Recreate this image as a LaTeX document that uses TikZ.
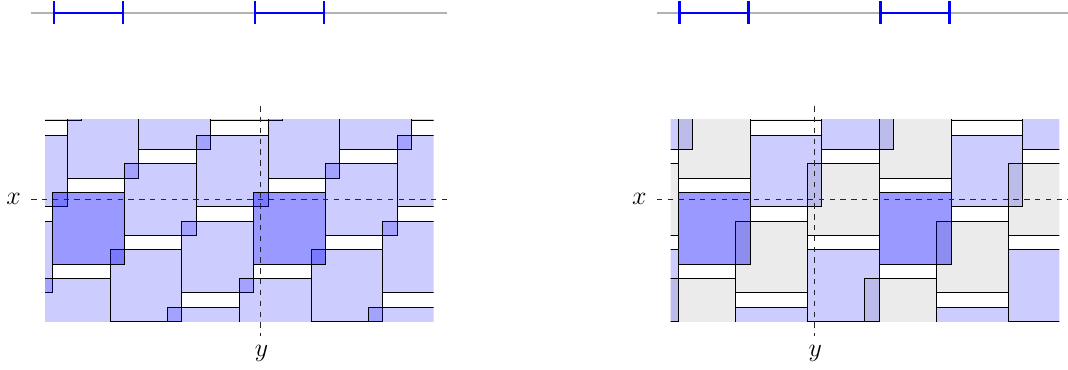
\documentclass[tikz,border=0pt]{standalone}
\usepackage{tikz}
\usepackage{xcolor}
\definecolor{tileBlue}{RGB}{0, 0, 255}
\definecolor{tileInk}{RGB}{0, 0, 0}
\definecolor{axisGray}{RGB}{178, 178, 178}

\begin{document}
\begin{tikzpicture}[x=0.28cm, y=0.28cm,
        tile/.style={draw=tileInk, line width=0.4pt, fill=tileBlue, fill opacity=0.2},
        graytile/.style={draw=tileInk, line width=0.4pt, fill=tileInk, fill opacity=0.08},
        marked/.style={draw=tileInk, line width=0.4pt, fill=tileBlue, fill opacity=0.25},
        guideline/.style={dashed, draw=tileInk!85, line width=0.4pt},
        axisline/.style={draw=axisGray, line width=1.1pt},
        spanmark/.style={draw=tileBlue, line width=1.5pt},
        axislabel/.style={anchor=base, inner sep=0pt, font=\Large}]
            \useasboundingbox (-3.67,-12.32) rectangle (70.76,13.4);

            % Left: lattice of squares
            \begin{scope}
                \clip (-0.53,-9.02) rectangle (26.55,5.04);
                \foreach \i in {-4,...,7}
                    \foreach \j in {-5,...,6}
                        \draw[tile] ({5*\i+4*\j},{2*\i-4*\j-5}) rectangle +(5,5);
                \foreach \k in {0,1}
                    \draw[marked] ({14*\k},-5) rectangle +(5,5);
            \end{scope}

            % Left: axes and labels
            \draw[guideline] (-1.5,-0.5) -- (27.5,-0.5);
            \draw[guideline] (14.5,6) -- (14.5,-10);
            \node[axislabel] (xlabelL) at (-2.72,-0.86) {$x$};
            \node[axislabel] (ylabelL) at (14.55,-11.42) {$y$};

            % Left: intervals on top
            \draw[axisline] (-1.5,12.5) -- (27.5,12.5);
            \foreach \k in {0,1}
                \draw[spanmark] ({14*\k+0.1},12.5) -- ({14*\k+4.9},12.5)
                    ({14*\k+0.1},11.7) -- ({14*\k+0.1},13.3)
                    ({14*\k+4.9},11.7) -- ({14*\k+4.9},13.3);

            \begin{scope}[xshift=12.208cm]
                % Right: shifted columns, blue and gray
                \begin{scope}
                    \clip (-0.53,-9.02) rectangle (26.55,5.04);
                    \foreach \k in {-2,...,3}
                        \foreach \n in {-5,...,5} {
                            \pgfmathtruncatemacro{\sx}{14*\k+floor(4.5*\n)}
                            \ifodd\n\relax
                                \draw[graytile] (\sx,{-2*\n-5}) rectangle +(5,5);
                            \else
                                \draw[tile] (\sx,{-2*\n-5}) rectangle +(5,5);
                            \fi
                        }
                    \foreach \k in {0,1}
                        \draw[marked] ({14*\k},-5) rectangle +(5,5);
                \end{scope}

                % Right: axes and labels
                \draw[guideline] (-1.5,-0.5) -- (27.5,-0.5);
                \draw[guideline] (9.5,6) -- (9.5,-10);
                \node[axislabel] (xlabelR) at (-2.72,-0.86) {$x$};
                \node[axislabel] (ylabelR) at (9.55,-11.42) {$y$};

                % Right: intervals on top
                \draw[axisline] (-1.5,12.5) -- (27.5,12.5);
                \foreach \k in {0,1}
                    \draw[spanmark] ({14*\k+0.1},12.5) -- ({14*\k+4.9},12.5)
                        ({14*\k+0.1},11.7) -- ({14*\k+0.1},13.3)
                        ({14*\k+4.9},11.7) -- ({14*\k+4.9},13.3);
            \end{scope}
        \end{tikzpicture}
\end{document}
